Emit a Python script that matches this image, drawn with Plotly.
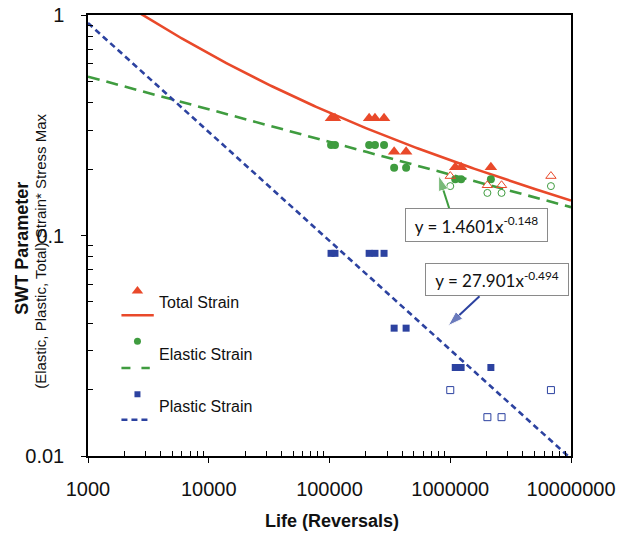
import plotly.graph_objects as go
import numpy as np

# ---------------- data ----------------
life_failed = [1.03e5, 1.11e5, 2.13e5, 2.38e5, 2.83e5, 3.43e5, 4.31e5, 1.10e6, 1.23e6, 2.17e6]
total_failed = [0.340, 0.340, 0.340, 0.340, 0.340, 0.240, 0.240, 0.204, 0.204, 0.204]
elastic_failed = [0.257, 0.257, 0.257, 0.257, 0.257, 0.203, 0.203, 0.180, 0.180, 0.180]
plastic_failed = [0.083, 0.083, 0.083, 0.083, 0.083, 0.038, 0.038, 0.0252, 0.0252, 0.0252]

life_runout = [1.0e6, 2.03e6, 2.66e6, 6.82e6]
total_runout = [0.186, 0.169, 0.169, 0.186]
elastic_runout = [0.1675, 0.156, 0.156, 0.1675]
plastic_runout = [0.0199, 0.0150, 0.0150, 0.0199]

# power-law trend coefficients (as printed on the chart)
elastic_coef, elastic_exp = 1.4601, -0.148
plastic_coef, plastic_exp = 27.901, -0.494

x_ticks = [1e3, 1e4, 1e5, 1e6, 1e7]
x_ticktext = ["1000", "10000", "100000", "1000000", "10000000"]
y_ticks = [0.01, 0.1, 1]
y_ticktext = ["0.01", "0.1", "1"]

RED = "#E9492A"
GREEN = "#3F9C3F"
BLUE = "#2C42A0"
FONT = "Liberation Sans, Arial, sans-serif"

W, H = 622, 533
L, R, T, B = 88.3, 570.7, 15.0, 455.7

def px(p):
    return (p - L) / (R - L)

def py(p):
    return (B - p) / (B - T)

# trend curves
xs = np.logspace(3, 7, 200)
el_fit = elastic_coef * xs ** elastic_exp
pl_fit = plastic_coef * xs ** plastic_exp
tot_fit = el_fit + pl_fit

fig = go.Figure()

fig.add_trace(go.Scatter(x=xs, y=tot_fit, mode="lines", line=dict(color=RED, width=2.6), hoverinfo="skip"))
fig.add_trace(go.Scatter(x=xs, y=el_fit, mode="lines", line=dict(color=GREEN, width=2.6, dash="12px,7px"), hoverinfo="skip"))
fig.add_trace(go.Scatter(x=xs, y=pl_fit, mode="lines", line=dict(color=BLUE, width=2.6, dash="6px,4px"), hoverinfo="skip"))

fig.add_trace(go.Scatter(x=life_failed, y=total_failed, mode="markers",
                         marker=dict(symbol="triangle-up", size=11, color=RED)))
fig.add_trace(go.Scatter(x=life_failed, y=elastic_failed, mode="markers",
                         marker=dict(symbol="circle", size=8, color=GREEN)))
fig.add_trace(go.Scatter(x=life_failed, y=plastic_failed, mode="markers",
                         marker=dict(symbol="square", size=7, color=BLUE)))

fig.add_trace(go.Scatter(x=life_runout, y=total_runout, mode="markers",
                         marker=dict(symbol="triangle-up-open", size=9, color=RED, line=dict(width=1))))
fig.add_trace(go.Scatter(x=life_runout, y=elastic_runout, mode="markers",
                         marker=dict(symbol="circle-open", size=7, color=GREEN, line=dict(width=1))))
fig.add_trace(go.Scatter(x=life_runout, y=plastic_runout, mode="markers",
                         marker=dict(symbol="square-open", size=7, color=BLUE, line=dict(width=1))))

# ---- custom legend drawn on a pixel overlay axis ----
leg = [
    ("Total Strain", RED, "triangle-up", 10, 290.7, 315.0, "solid", [121.7, 154.0], 302.3),
    ("Elastic Strain", GREEN, "circle", 7, 341.0, 367.7, "9px,11px", [121.7, 150.0], 354.3),
    ("Plastic Strain", BLUE, "square", 6, 394.0, 419.5, "6px,4px", [121.7, 151.0], 406.7),
]
for name, col, sym, sz, my, ly, dash, lx, ty in leg:
    fig.add_trace(go.Scatter(x=[137.7], y=[my], xaxis="x2", yaxis="y2", mode="markers",
                             marker=dict(symbol=sym, size=sz, color=col), hoverinfo="skip"))
    fig.add_trace(go.Scatter(x=lx, y=[ly, ly], xaxis="x2", yaxis="y2", mode="lines",
                             line=dict(color=col, width=2.6, dash=dash), hoverinfo="skip"))
    fig.add_annotation(x=157.3, y=ty, xref="x2", yref="y2", text=name, showarrow=False,
                       xanchor="left", yanchor="middle",
                       font=dict(family=FONT, size=16, color="#111"))

# ---- arrows from equation boxes (tail -> head) ----
for (x0, y0, x1, y1, col) in [(449.0, 208.0, 438.5, 175.5, GREEN), (479.3, 296.0, 448.0, 325.5, BLUE)]:
    fig.add_trace(go.Scatter(x=[x0, x1], y=[y0, y1], xaxis="x2", yaxis="y2", mode="lines+markers",
                             line=dict(color=col, width=2),
                             marker=dict(symbol="arrow", angleref="previous", size=[0, 16], color=col),
                             hoverinfo="skip"))

fig.add_annotation(x=476.5, y=225.0, xref="x2", yref="y2",
                   text="y = %.4fx<sup>%.3f</sup>" % (elastic_coef, elastic_exp),
                   showarrow=False, width=141, height=32, borderpad=0,
                   bordercolor="#8a8a8a", borderwidth=1, bgcolor="white",
                   font=dict(family="Lato, Open Sans, sans-serif", size=17, color="#111"))
fig.add_annotation(x=496.3, y=279.6, xref="x2", yref="y2",
                   text="y = %.3fx<sup>%.3f</sup>" % (plastic_coef, plastic_exp),
                   showarrow=False, width=142, height=31, borderpad=0,
                   bordercolor="#8a8a8a", borderwidth=1, bgcolor="white",
                   font=dict(family="Lato, Open Sans, sans-serif", size=17, color="#111"))

# ---- axis titles ----
fig.add_annotation(x=px(332), y=py(521), xref="paper", yref="paper", text="<b>Life (Reversals)</b>",
                   showarrow=False, xanchor="center", yanchor="middle",
                   font=dict(family=FONT, size=18, color="#111"))
fig.add_annotation(x=px(23), y=py(248), xref="paper", yref="paper", text="<b>SWT Parameter</b>",
                   showarrow=False, textangle=-90, xanchor="center", yanchor="middle",
                   font=dict(family=FONT, size=18, color="#111"))
fig.add_annotation(x=px(41), y=py(251), xref="paper", yref="paper",
                   text="(Elastic, Plastic, Total) Strain* Stress Max",
                   showarrow=False, textangle=-90, xanchor="center", yanchor="middle",
                   font=dict(family=FONT, size=15, color="#111"))

minor_x = [m * 10 ** e for e in range(3, 7) for m in range(2, 10)]
minor_y = [m * 10 ** e for e in range(-2, 0) for m in range(2, 10)]

fig.update_layout(
    width=W, height=H,
    margin=dict(l=L, r=W - R, t=T, b=H - B, pad=0, autoexpand=False),
    paper_bgcolor="white", plot_bgcolor="white",
    showlegend=False,
    xaxis=dict(type="log", range=[3, 7], showgrid=False, zeroline=False, automargin=False,
               showline=True, linecolor="black", linewidth=1.5, mirror=True,
               tickmode="array", tickvals=x_ticks, ticktext=x_ticktext,
               ticks="outside", ticklen=5, tickcolor="black", tickwidth=1.2,
               ticklabelstandoff=9,
               tickfont=dict(family=FONT, size=20, color="#111"),
               minor=dict(tickmode="array", tickvals=minor_x, ticks="inside", ticklen=5,
                          tickcolor="black", tickwidth=1, showgrid=False)),
    yaxis=dict(type="log", range=[-2, 0], showgrid=False, zeroline=False, automargin=False,
               showline=True, linecolor="black", linewidth=1.5, mirror=True,
               tickmode="array", tickvals=y_ticks, ticktext=y_ticktext,
               ticks="outside", ticklen=5, tickcolor="black", tickwidth=1.2,
               ticklabelstandoff=13,
               tickfont=dict(family=FONT, size=20, color="#111"),
               minor=dict(tickmode="array", tickvals=minor_y, ticks="inside", ticklen=5,
                          tickcolor="black", tickwidth=1, showgrid=False)),
    xaxis2=dict(overlaying="x", range=[L, R], visible=False, fixedrange=True, automargin=False),
    yaxis2=dict(overlaying="y", range=[B, T], visible=False, fixedrange=True, automargin=False),
)

fig.write_html("out.html")
